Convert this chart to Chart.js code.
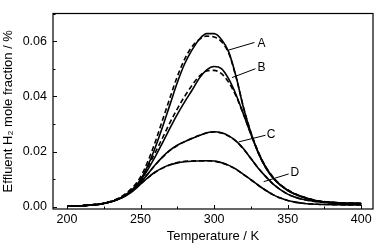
<!DOCTYPE html>
<html>
<head>
<meta charset="utf-8">
<script src="https://cdn.jsdelivr.net/npm/chart.js@4.4.0/dist/chart.umd.min.js"></script>
<style>
  body { margin: 0; background: #fff; }
  #wrap { width: 377px; height: 245px; }
</style>
</head>
<body>
<div id="wrap"><canvas id="chart"></canvas></div>
<script>
// temperature grid (K)
const temperatures = [200,205,210,215,220,225,230,235,240,245,250,255,260,265,270,275,280,285,290,295,300,305,310,315,320,325,330,335,340,345,350,355,360,370,380,390,400];

// effluent H2 mole fraction, solid = measured, dashed = model
const aSolid  = [.0002,.0003,.0004,.0006,.0008,.0012,.0018,.0028,.0043,.0065,.0098,.0150,.0215,.0290,.0370,.0450,.0518,.0568,.0607,.0627,.0627,.0606,.0560,.0470,.0358,.0268,.0197,.0145,.0106,.0079,.0060,.0046,.0036,.0021,.0016,.0013,.0012];
const aDashed = [.0002,.0003,.0004,.0006,.0009,.0013,.0020,.0031,.0048,.0072,.0108,.0165,.0235,.0315,.0395,.0472,.0535,.0580,.0606,.0618,.0615,.0598,.0555,.0468,.0360,.0270,.0199,.0146,.0108,.0081,.0062,.0047,.0037,.0022,.0016,.0013,.0012];
const bSolid  = [.0002,.0003,.0004,.0006,.0008,.0012,.0018,.0028,.0043,.0065,.0095,.0135,.0182,.0232,.0285,.0335,.0380,.0422,.0466,.0496,.0508,.0500,.0462,.0405,.0335,.0263,.0195,.0142,.0104,.0078,.0059,.0045,.0035,.0021,.0016,.0013,.0012];
const bDashed = [.0002,.0003,.0004,.0006,.0008,.0012,.0019,.0030,.0046,.0070,.0100,.0145,.0197,.0250,.0305,.0355,.0400,.0440,.0473,.0492,.0494,.0482,.0450,.0400,.0334,.0263,.0196,.0143,.0105,.0079,.0060,.0046,.0036,.0022,.0016,.0013,.0012];
const cSolid  = [.0002,.0003,.0004,.0006,.0008,.0012,.0018,.0028,.0042,.0062,.0088,.0119,.0152,.0181,.0205,.0223,.0236,.0247,.0258,.0268,.0272,.0268,.0257,.0238,.0210,.0175,.0140,.0110,.0083,.0062,.0046,.0035,.0027,.0018,.0014,.0012,.0011];
const cDashed = [.0002,.0003,.0004,.0006,.0009,.0013,.0019,.0029,.0044,.0064,.0090,.0120,.0152,.0180,.0204,.0222,.0236,.0248,.0259,.0267,.0271,.0267,.0256,.0237,.0209,.0175,.0140,.0110,.0083,.0062,.0046,.0035,.0027,.0018,.0014,.0012,.0011];
const dSolid  = [.0002,.0003,.0004,.0006,.0008,.0012,.0018,.0027,.0040,.0058,.0082,.0106,.0126,.0141,.0152,.0159,.0163,.0165,.0166,.0167,.0166,.0160,.0150,.0136,.0117,.0098,.0078,.0060,.0044,.0032,.0023,.0017,.0013,.0009,.0008,.0007,.0007];
const dDashed = [.0002,.0003,.0004,.0006,.0009,.0013,.0019,.0028,.0041,.0059,.0082,.0105,.0125,.0140,.0152,.0160,.0165,.0166,.0167,.0167,.0165,.0159,.0149,.0135,.0117,.0098,.0078,.0060,.0044,.0032,.0023,.0017,.0013,.0009,.0008,.0007,.0007];

const xTicks = [200, 250, 300, 350, 400];
const yTicks = [0, 0.02, 0.04, 0.06];
const curveNames = ['A', 'B', 'C', 'D'];

// where each curve label sits and where its pointer touches the curve (data units)
const curveLabels = [
  { text: 0, x: 332.2, y: 0.0591, from: [309.5, 0.0567], to: [327.4, 0.0595] },
  { text: 1, x: 332.2, y: 0.0502, from: [312.2, 0.0468], to: [328.1, 0.0500] },
  { text: 2, x: 338.8, y: 0.0261, from: [316.7, 0.0235], to: [334.9, 0.0259] },
  { text: 3, x: 354.8, y: 0.0125, from: [333.7, 0.0091], to: [350.7, 0.0119] }
];

const FONT = 'Arial, "Liberation Sans", sans-serif';

function series(values, dashed) {
  return {
    data: values.map((v, i) => ({ x: temperatures[i], y: v })),
    borderColor: '#000',
    borderWidth: 1.6,
    borderDash: dashed ? [5, 3] : [],
    pointRadius: 0,
    fill: false,
    cubicInterpolationMode: 'monotone'
  };
}

// box round the plot, inward major and minor ticks
const framePlugin = {
  id: 'frame',
  afterDraw(chart) {
    const ctx = chart.ctx;
    const a = chart.chartArea;
    const xs = chart.scales.x, ys = chart.scales.y;
    ctx.save();
    ctx.strokeStyle = '#000';
    ctx.lineWidth = 1.2;
    ctx.strokeRect(a.left, a.top, a.right - a.left, a.bottom - a.top);
    ctx.lineWidth = 1;
    ctx.beginPath();
    for (let i = 0; i < xTicks.length; i++) {
      const px = Math.round(xs.getPixelForValue(xTicks[i])) + 0.5;
      ctx.moveTo(px, a.bottom); ctx.lineTo(px, a.bottom - 4);
      if (i < xTicks.length - 1) {
        const mx = Math.round(xs.getPixelForValue((xTicks[i] + xTicks[i + 1]) / 2)) + 0.5;
        ctx.moveTo(mx, a.bottom); ctx.lineTo(mx, a.bottom - 2.5);
      }
    }
    for (let i = 0; i < yTicks.length; i++) {
      const py = Math.round(ys.getPixelForValue(yTicks[i])) + 0.5;
      ctx.moveTo(a.left, py); ctx.lineTo(a.left + 4, py);
      const my = Math.round(ys.getPixelForValue(yTicks[i] + 0.01)) + 0.5;
      ctx.moveTo(a.left, my); ctx.lineTo(a.left + 2.5, my);
    }
    ctx.stroke();
    ctx.restore();
  }
};

const labelPlugin = {
  id: 'curveLabels',
  afterDatasetsDraw(chart) {
    const ctx = chart.ctx;
    const xs = chart.scales.x, ys = chart.scales.y;
    ctx.save();
    ctx.strokeStyle = '#000';
    ctx.fillStyle = '#000';
    ctx.lineWidth = 1;
    ctx.font = '12px ' + FONT;
    ctx.textAlign = 'center';
    ctx.textBaseline = 'middle';
    curveLabels.forEach(l => {
      ctx.beginPath();
      ctx.moveTo(xs.getPixelForValue(l.from[0]), ys.getPixelForValue(l.from[1]));
      ctx.lineTo(xs.getPixelForValue(l.to[0]), ys.getPixelForValue(l.to[1]));
      ctx.stroke();
      ctx.fillText(curveNames[l.text], xs.getPixelForValue(l.x), ys.getPixelForValue(l.y));
    });
    ctx.restore();
  }
};

new Chart(document.getElementById('chart'), {
  type: 'line',
  data: {
    datasets: [
      series(aSolid, false), series(aDashed, true),
      series(bSolid, false), series(bDashed, true),
      series(cSolid, false), series(cDashed, true),
      series(dSolid, false), series(dDashed, true)
    ]
  },
  options: {
    responsive: true,
    maintainAspectRatio: false,
    animation: false,
    layout: { padding: { top: 2, right: 4, left: 0, bottom: 0 } },
    plugins: { legend: { display: false }, tooltip: { enabled: false } },
    scales: {
      x: {
        type: 'linear',
        min: 190.5,
        max: 408,
        afterFit: s => { s.height = 36; },
        afterBuildTicks: s => { s.ticks = xTicks.map(v => ({ value: v })); },
        grid: { display: false, drawTicks: false },
        border: { display: false },
        ticks: { color: '#000', padding: 3, font: { family: FONT, size: 12.5 } },
        title: {
          display: true, text: 'Temperature / K', color: '#000',
          font: { family: FONT, size: 13 }, padding: { top: 0, bottom: 1 }
        }
      },
      y: {
        min: -0.0008,
        max: 0.07,
        afterFit: s => { s.width = 53; },
        afterBuildTicks: s => { s.ticks = yTicks.map(v => ({ value: v })); },
        grid: { display: false, drawTicks: false },
        border: { display: false },
        ticks: {
          color: '#000', padding: 6, font: { family: FONT, size: 12.5 },
          callback: v => v.toFixed(2)
        },
        title: {
          display: true, text: 'Effluent H\u2082 mole fraction / %', color: '#000',
          font: { family: FONT, size: 13 }, padding: { top: 1, bottom: 0 }
        }
      }
    }
  },
  plugins: [framePlugin, labelPlugin]
});
</script>
</body>
</html>
